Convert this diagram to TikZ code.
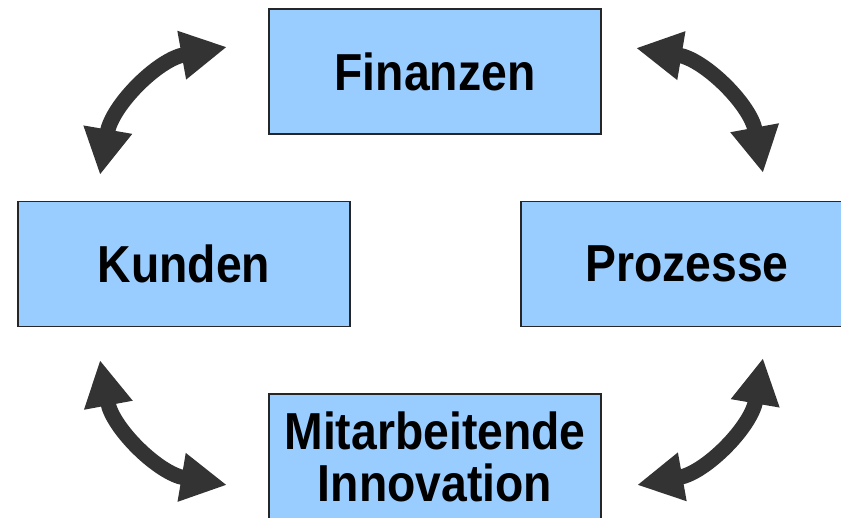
\documentclass[tikz,border=0pt]{standalone}
\usepackage{fontspec}
\setmainfont{Liberation Sans}[FakeStretch=0.89]
\usetikzlibrary{arrows.meta}
\definecolor{boxblue}{HTML}{99CCFF}
\definecolor{arrowgray}{HTML}{333333}
\begin{document}
\begin{tikzpicture}[x=0.025cm,y=0.025cm,
    perspective/.style={draw=black!85,line width=0.9pt,fill=boxblue,
        minimum width=8.3cm,minimum height=3.125cm,inner sep=0pt,
        align=center,font=\fontsize{37}{37}\selectfont\bfseries},
    link/.style={draw=arrowgray,line width=0.38cm,
        {Triangle[length=1.15cm,width=1.15cm]}-{Triangle[length=1.15cm,width=1.15cm]}}]
    \useasboundingbox (0,0) rectangle (841,518);
    \clip (0,0) rectangle (841,518);

    \node[perspective] (fin) at (435,446.5) {Finanzen};
    \node[perspective] (kun) at (184,254) {Kunden};
    \node[perspective] (pro) at (687,254) {Prozesse};
    \node[perspective] (mit) at (435,61.5) {Mitarbeitende\\Innovation};

    \coordinate (tlA) at (100,343);
    \coordinate (tlB) at (227,471);
    \coordinate (trA) at (636,470);
    \coordinate (trB) at (763,345);
    \coordinate (brA) at (763,160);
    \coordinate (brB) at (637,33);
    \coordinate (blA) at (227,33);
    \coordinate (blB) at (100,158);

    \draw[link] (tlA) to[bend left=35] (tlB);
    \draw[link] (trA) to[bend left=35] (trB);
    \draw[link] (brA) to[bend left=35] (brB);
    \draw[link] (blA) to[bend left=35] (blB);
\end{tikzpicture}
\end{document}
